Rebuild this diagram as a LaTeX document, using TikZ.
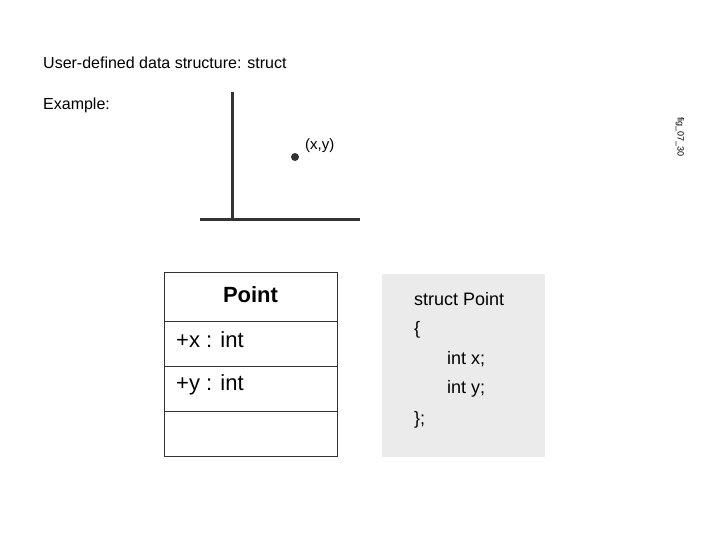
\documentclass[tikz,border=0pt]{standalone}
\usepackage{fontspec}
\setmainfont{Liberation Sans}
\begin{document}
\begin{tikzpicture}[x=1pt,y=-1pt,
  txt/.style={anchor=west,inner sep=0pt,font=\fontsize{16}{18}\selectfont},
  uml/.style={anchor=west,inner sep=0pt,font=\fontsize{22}{24}\selectfont},
  code/.style={anchor=west,inner sep=0pt,font=\fontsize{18}{20}\selectfont},
  axis/.style={line width=3pt,draw=black!80}]
\useasboundingbox (0,0) rectangle (720,540);
\node[txt] (title) at (43,63) {User-defined data structure: struct};
\node[txt] (ex) at (43,105) {Example:};
\coordinate (vt) at (232,92); \coordinate (o) at (232,220);
\coordinate (hl) at (200,220); \coordinate (hr) at (360,220);
\draw[axis] (vt) -- (o); \draw[axis] (hl) -- (hr);
\fill[black!80] (295,157) circle (4);
\node[txt,font=\fontsize{15}{17}\selectfont] (pt) at (305,146) {(x,y)};
\node[inner sep=0pt,rotate=-90,font=\fontsize{9}{10}\selectfont] (fig) at (680,137) {fig\_07\_30};
\draw[line width=1pt,draw=black!80] (164,272) rectangle (337,456)
  (164,321) -- (337,321) (164,366) -- (337,366) (164,411) -- (337,411);
\node[inner sep=0pt,font=\fontsize{22}{24}\selectfont\bfseries] (name) at (250.5,295) {Point};
\node[uml] (a1) at (176,340) {+x : int};
\node[uml] (a2) at (176,385) {+y : int};
\fill[black!8] (382,274) rectangle (545,457);
\node[code] (c1) at (414,299) {struct Point};
\node[code] (c2) at (414,330) {\{};
\node[code] (c3) at (447,359) {int x;};
\node[code] (c4) at (447,389) {int y;};
\node[code] (c5) at (414,420) {\};};
\end{tikzpicture}
\end{document}
